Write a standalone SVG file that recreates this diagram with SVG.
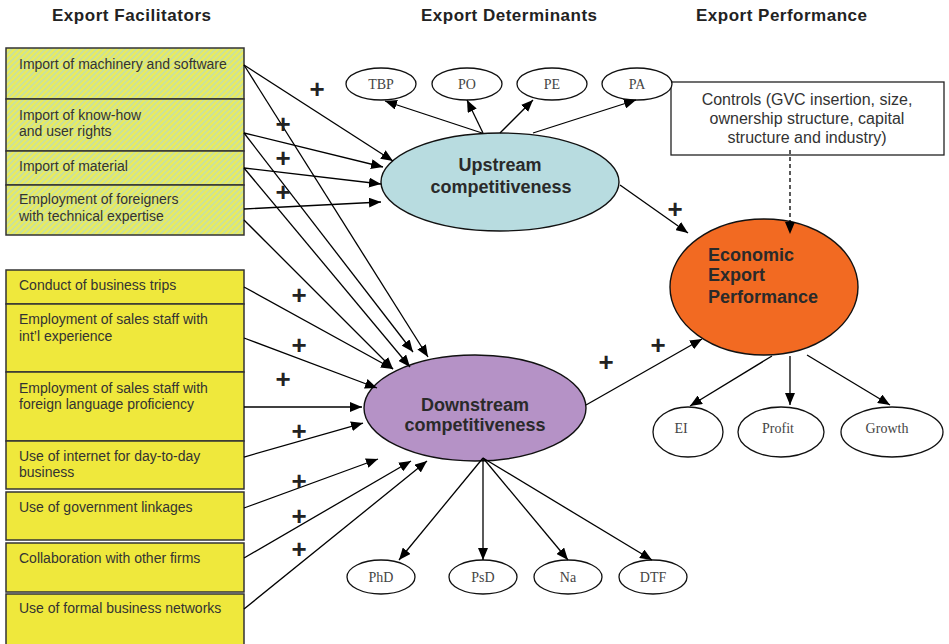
<svg xmlns="http://www.w3.org/2000/svg" width="949" height="644" viewBox="0 0 949 644">
<defs>
<pattern id="hatch" width="4" height="4" patternUnits="userSpaceOnUse" patternTransform="rotate(45)">
<rect width="4" height="4" fill="#c9e19c"/>
<rect width="2" height="4" fill="#ecec58"/>
</pattern>
<marker id="ah" markerUnits="userSpaceOnUse" markerWidth="12" markerHeight="10" refX="12" refY="5" orient="auto">
<path d="M0,0 L12,5 L0,10 z" fill="#000"/>
</marker>
</defs>
<style>
.title{font-family:"Liberation Sans",Arial,sans-serif;font-weight:bold;font-size:17px;fill:#222}
.bt{font-family:"Liberation Sans",Arial,sans-serif;font-size:14px;fill:#333}
.ct{font-family:"Liberation Sans",Arial,sans-serif;font-size:16px;fill:#333;text-anchor:middle}
.hb{fill:url(#hatch);stroke:#333;stroke-width:1.5}
.yb{fill:#efe83c;stroke:#333;stroke-width:1.5}
.big{font-family:"Liberation Sans",Arial,sans-serif;font-weight:bold;font-size:18px;fill:#2a2a2a}
.sm{fill:#fff;stroke:#111;stroke-width:1.3}
.st{font-family:"Liberation Serif","Times New Roman",serif;font-size:14px;fill:#444;text-anchor:middle}
.plus{font-family:"Liberation Sans",Arial,sans-serif;font-weight:bold;font-size:26px;fill:#222;text-anchor:middle}
.c line{stroke:#000;stroke-width:1.3;marker-end:url(#ah)}
</style>

<g id="titles">
<text class="title" x="52" y="21" textLength="159">Export Facilitators</text>
<text class="title" x="421" y="21" textLength="176">Export Determinants</text>
<text class="title" x="696" y="21" textLength="171">Export Performance</text>
</g>

<g id="f1"><rect class="hb" x="6" y="48" width="238" height="51"/><text class="bt" x="19" y="69">Import of machinery and software</text></g>
<g id="f2"><rect class="hb" x="6" y="99" width="238" height="52"/><text class="bt" x="19" y="120">Import of know-how</text><text class="bt" x="19" y="136">and user rights</text></g>
<g id="f3"><rect class="hb" x="6" y="151" width="238" height="34"/><text class="bt" x="19" y="171">Import of material</text></g>
<g id="f4"><rect class="hb" x="6" y="185" width="238" height="50"/><text class="bt" x="19" y="204">Employment of foreigners</text><text class="bt" x="19" y="221">with technical expertise</text></g>

<g id="b1"><rect class="yb" x="6" y="270" width="238" height="34"/><text class="bt" x="19" y="290">Conduct of business trips</text></g>
<g id="b2"><rect class="yb" x="6" y="304" width="238" height="68"/><text class="bt" x="19" y="324">Employment of sales staff with</text><text class="bt" x="19" y="341">int’l experience</text></g>
<g id="b3"><rect class="yb" x="6" y="372" width="238" height="69"/><text class="bt" x="19" y="393">Employment of sales staff with</text><text class="bt" x="19" y="409">foreign language proficiency</text></g>
<g id="b4"><rect class="yb" x="6" y="441" width="238" height="48"/><text class="bt" x="19" y="461">Use of internet for day-to-day</text><text class="bt" x="19" y="477">business</text></g>
<g id="b5"><rect class="yb" x="6" y="492" width="238" height="48"/><text class="bt" x="19" y="512">Use of government linkages</text></g>
<g id="b6"><rect class="yb" x="6" y="543" width="238" height="49"/><text class="bt" x="19" y="563">Collaboration with other firms</text></g>
<g id="b7"><rect class="yb" x="6" y="594" width="238" height="56"/><text class="bt" x="19" y="613">Use of formal business networks</text></g>

<g id="upstream"><ellipse cx="500" cy="182" rx="119" ry="49" fill="#b8dce0" stroke="#111" stroke-width="1.4"/><text class="big" x="500" y="171" text-anchor="middle">Upstream</text><text class="big" x="501" y="193" text-anchor="middle">competitiveness</text></g>
<g id="downstream"><ellipse cx="475" cy="408" rx="111" ry="53" fill="#b592c6" stroke="#111" stroke-width="1.4"/><text class="big" x="475" y="411" text-anchor="middle">Downstream</text><text class="big" x="475" y="431" text-anchor="middle">competitiveness</text></g>
<g id="economic"><ellipse cx="764" cy="287" rx="94" ry="68" fill="#f26a22" stroke="#111" stroke-width="1.4"/><text class="big" x="708" y="261">Economic</text><text class="big" x="708" y="281">Export</text><text class="big" x="708" y="303">Performance</text></g>
<g id="controls"><rect x="671" y="82" width="273" height="73" fill="#fff" stroke="#222" stroke-width="1.3"/>
<text class="ct" x="807" y="105">Controls (GVC insertion, size,</text>
<text class="ct" x="807" y="124">ownership structure, capital</text>
<text class="ct" x="807" y="143">structure and industry)</text></g>

<g id="TBP"><ellipse class="sm" cx="381" cy="84" rx="35" ry="16"/><text class="st" x="381" y="89">TBP</text></g>
<g id="PO"><ellipse class="sm" cx="467" cy="84" rx="35" ry="16"/><text class="st" x="467" y="89">PO</text></g>
<g id="PE"><ellipse class="sm" cx="552" cy="84" rx="35" ry="16"/><text class="st" x="552" y="89">PE</text></g>
<g id="PA"><ellipse class="sm" cx="637" cy="84" rx="35" ry="16"/><text class="st" x="637" y="89">PA</text></g>

<g id="PhD"><ellipse class="sm" cx="381" cy="577" rx="34" ry="17"/><text class="st" x="381" y="582">PhD</text></g>
<g id="PsD"><ellipse class="sm" cx="483" cy="577" rx="34" ry="17"/><text class="st" x="483" y="582">PsD</text></g>
<g id="Na"><ellipse class="sm" cx="568" cy="577" rx="34" ry="17"/><text class="st" x="568" y="582">Na</text></g>
<g id="DTF"><ellipse class="sm" cx="653" cy="577" rx="34" ry="17"/><text class="st" x="653" y="582">DTF</text></g>

<g id="EI"><ellipse class="sm" cx="688" cy="432" rx="35" ry="25"/><text class="st" x="681" y="433">EI</text></g>
<g id="Profit"><ellipse class="sm" cx="781" cy="432" rx="43" ry="25"/><text class="st" x="778" y="433">Profit</text></g>
<g id="Growth"><ellipse class="sm" cx="892" cy="432" rx="51" ry="25"/><text class="st" x="887" y="433">Growth</text></g>

<g id="connectors" class="c">
<line x1="244" y1="65" x2="393" y2="161"/>
<line x1="244" y1="133" x2="383" y2="167"/>
<line x1="244" y1="168" x2="381" y2="184"/>
<line x1="244" y1="209" x2="381" y2="202"/>
<line x1="244" y1="65" x2="428" y2="357"/>
<line x1="244" y1="133" x2="413" y2="352"/>
<line x1="244" y1="168" x2="410" y2="367"/>
<line x1="244" y1="220" x2="393" y2="369"/>
<line x1="244" y1="287" x2="393" y2="369"/>
<line x1="244" y1="338" x2="377" y2="388"/>
<line x1="244" y1="407" x2="362" y2="407"/>
<line x1="244" y1="457" x2="363" y2="423"/>
<line x1="244" y1="508" x2="378" y2="459"/>
<line x1="244" y1="558" x2="411" y2="461"/>
<line x1="244" y1="609" x2="427" y2="461"/>
<line x1="482" y1="133" x2="385" y2="101"/>
<line x1="483" y1="133" x2="467" y2="100"/>
<line x1="500" y1="133" x2="533" y2="100"/>
<line x1="533" y1="133" x2="636" y2="100"/>
<line x1="483" y1="458" x2="399" y2="560"/>
<line x1="483" y1="458" x2="483" y2="560"/>
<line x1="483" y1="458" x2="568" y2="560"/>
<line x1="483" y1="458" x2="652" y2="560"/>
<line x1="620" y1="185" x2="688" y2="233"/>
<line x1="586" y1="405" x2="702" y2="339"/>
<line x1="772" y1="356" x2="690" y2="406"/>
<line x1="790" y1="356" x2="790" y2="405"/>
<line x1="807" y1="355" x2="890" y2="405"/>
<line x1="790" y1="150" x2="790" y2="234" stroke-dasharray="4,3"/>
</g>

<g id="signs">
<text class="plus" x="317" y="98">+</text>
<text class="plus" x="283" y="133">+</text>
<text class="plus" x="283" y="167">+</text>
<text class="plus" x="283" y="201">+</text>
<text class="plus" x="299" y="304">+</text>
<text class="plus" x="299" y="354">+</text>
<text class="plus" x="283" y="388">+</text>
<text class="plus" x="299" y="440">+</text>
<text class="plus" x="299" y="490">+</text>
<text class="plus" x="299" y="525">+</text>
<text class="plus" x="299" y="558">+</text>
<text class="plus" x="606" y="371">+</text>
<text class="plus" x="658" y="354">+</text>
<text class="plus" x="675" y="218">+</text>
</g>
</svg>
